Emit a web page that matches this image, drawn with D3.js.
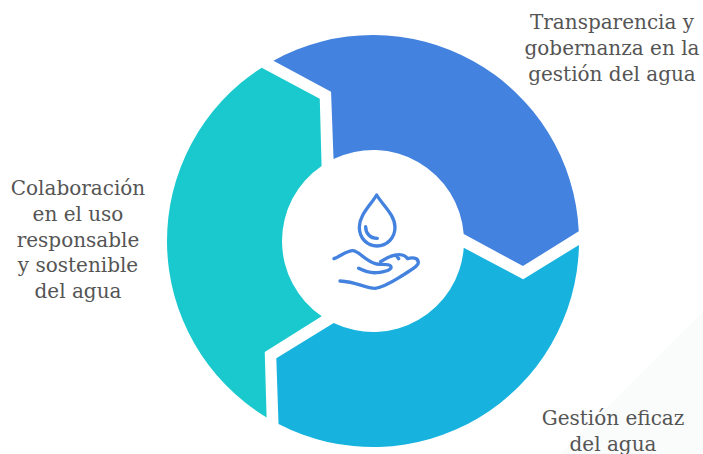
<!DOCTYPE html>
<html><head><meta charset="utf-8">
<script src="https://cdn.jsdelivr.net/npm/d3@7"></script>
<style>html,body{margin:0;padding:0;background:#fff;overflow:hidden}</style>
</head><body><svg id="c" width="703" height="454"></svg>
<script>
const categories = ["Transparencia y gobernanza en la gestión del agua","Gestión eficaz del agua","Colaboración en el uso responsable y sostenible del agua"];
const shares = [1,1,1];
const colors = ["#4382de","#17b3de","#1ac9cd"];
const labelLines = [["Transparencia y","gobernanza en la","gestión del agua"],["Gestión eficaz","del agua"],["Colaboración","en el uso","responsable","y sostenible","del agua"]];
const labelAnchors = [[612,29],[613,425],[78,195]];

const W=703,H=454,cx=373,cy=241,R=206,r=91,rm=153;
const deg=Math.PI/180;
const svg=d3.select("#c");
svg.append("path").attr("d","M703,312 L703,454 L560,454 Z").attr("fill","#fafbfb");
const g=svg.append("g").attr("transform",`translate(${cx},${cy})`);
const pie=d3.pie().sort(null).value(d=>d).startAngle(-30.5*deg).endAngle(329.5*deg);
const pol=(rad,a)=>[rad*Math.sin(a),-rad*Math.cos(a)];
function seg(d){
  const p=d3.path();
  const a0o=d.startAngle+1.6*deg,a1o=d.endAngle-2.2*deg;
  const a0i=d.startAngle+4.8*deg,a1i=d.endAngle-3.9*deg;
  const s=pol(R,a0o);p.moveTo(s[0],s[1]);
  p.arc(0,0,R,a0o-Math.PI/2,a1o-Math.PI/2,false);
  const t=pol(rm-1,d.endAngle+10*deg);p.lineTo(t[0],t[1]);
  const ie=pol(r,a1i);p.lineTo(ie[0],ie[1]);
  p.arc(0,0,r,a1i-Math.PI/2,a0i-Math.PI/2,true);
  const n=pol(rm+2,d.startAngle+14.8*deg);p.lineTo(n[0],n[1]);
  p.closePath();
  return p.toString();
}
g.selectAll("path.seg").data(pie(shares)).join("path").attr("class","seg").attr("d",seg).attr("fill",(d,i)=>colors[i]);

const icon=svg.append("g").attr("transform","translate(320,180) scale(0.3333)").attr("fill","none").attr("stroke","#4382de").attr("stroke-width",10).attr("stroke-linecap","round").attr("stroke-linejoin","round");
["M170,45 C150,78 118,105 118,142 C118,175 142,198 171,198 C200,198 225,175 225,142 C225,105 190,78 170,45 Z",
 "M137,140 C137,160 150,175 172,175",
 "M42,236 C60,230 80,212 98,212 C118,212 135,245 170,252 C185,255 205,250 212,258 C218,268 200,275 170,278 C150,280 130,272 116,265",
 "M182,245 C192,238 208,228 228,225 L236,236 M228,225 C240,222 255,225 263,236 C275,232 295,232 295,248 C295,258 275,268 250,285 C225,300 195,322 165,325 C135,325 110,305 60,303"
].forEach(d=>icon.append("path").attr("d",d));

const labels=svg.append("g").attr("font-family","'DejaVu Serif'").attr("font-size",20).attr("fill","#555").attr("text-anchor","middle");
labelLines.forEach((lines,i)=>{
  lines.forEach((l,j)=>labels.append("text").attr("x",labelAnchors[i][0]).attr("y",labelAnchors[i][1]+j*25.8).text(l));
});
</script></body></html>
